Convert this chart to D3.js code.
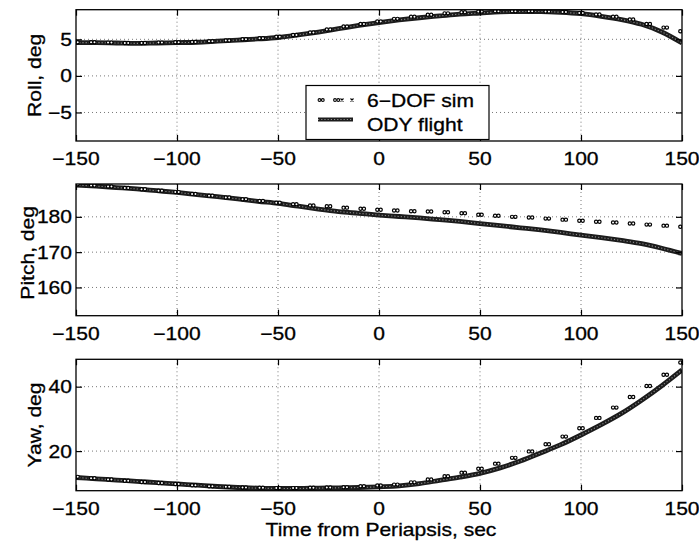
<!DOCTYPE html>
<html>
<head>
<meta charset="utf-8">
<script src="https://cdn.jsdelivr.net/npm/d3@7"></script>
<style>
  html, body { margin: 0; padding: 0; background: #fff; }
  svg { display: block; }
  text { font-family: "Liberation Sans", Arial, Helvetica, sans-serif; fill: #000; stroke: #000; stroke-width: 0.3; }
</style>
</head>
<body>
<svg id="chart" width="699" height="544"></svg>
<script>
// ---------------- data ----------------
const flightTime = [-150,-140,-130,-120,-110,-100,-90,-80,-70,-60,-50,-40,-30,-20,-10,0,10,20,30,40,50,60,70,80,90,100,110,120,130,140,150];
const rollFlight  = [4.55,4.55,4.5,4.45,4.5,4.55,4.6,4.75,4.9,5.05,5.25,5.6,6.0,6.45,6.9,7.3,7.65,7.95,8.2,8.45,8.6,8.75,8.8,8.8,8.7,8.5,8.15,7.7,7.05,6.0,4.5];
const pitchFlight = [189.0,188.7,188.3,187.9,187.4,186.9,186.3,185.7,185.1,184.4,183.8,183.0,182.2,181.5,181.0,180.5,180.1,179.7,179.2,178.7,178.1,177.5,176.9,176.3,175.6,174.8,174.1,173.3,172.4,171.1,169.6];
const yawFlight   = [11.8,11.4,11.0,10.6,10.2,9.8,9.4,9.0,8.7,8.5,8.4,8.4,8.5,8.6,8.7,8.9,9.2,9.9,10.9,11.9,13.1,14.8,16.9,19.4,22.0,25.0,28.2,31.7,35.8,40.3,45.2];

const simTime  = [-150,-141.7,-133.3,-125,-116.7,-108.3,-100,-91.7,-83.3,-75,-66.7,-58.3,-50,-41.7,-33.3,-25,-16.7,-8.3,0,8.3,16.7,25,33.3,41.7,50,58.3,66.7,75,83.3,91.7,100,108.3,116.7,125,133.3,141.7,150];
const rollSim  = [4.6,4.6,4.55,4.5,4.5,4.55,4.6,4.65,4.75,4.85,5.0,5.15,5.35,5.6,5.95,6.35,6.75,7.1,7.45,7.8,8.1,8.35,8.55,8.7,8.8,8.85,8.85,8.85,8.8,8.75,8.6,8.4,8.1,7.7,7.1,6.6,6.1];
const pitchSim = [189.2,188.9,188.6,188.2,187.8,187.4,187.0,186.5,186.0,185.5,185.0,184.5,184.0,183.6,183.2,183.0,182.6,182.3,182.0,181.8,181.6,181.5,181.3,181.0,180.6,180.3,180.0,179.8,179.5,179.2,178.9,178.6,178.4,178.1,177.8,177.5,177.2];
const yawSim   = [12.0,11.6,11.2,10.8,10.4,10.1,9.8,9.4,9.1,8.9,8.7,8.6,8.5,8.5,8.6,8.7,8.8,9.1,9.3,9.6,10.3,11.2,12.2,13.3,14.5,16.1,17.9,19.9,22.1,24.5,27.1,30.3,33.5,36.8,40.2,43.7,47.5];

const xTicks     = [-150,-100,-50,0,50,100,150];
const rollTicks  = [-5,0,5];
const pitchTicks = [160,170,180];
const yawTicks   = [20,40];

const panelLabels = ["Roll, deg","Pitch, deg","Yaw, deg"];
const xLabel = "Time from Periapsis, sec";
const legendLabels = ["6\u2212DOF sim","ODY flight"];

// ---------------- layout ----------------
const svg = d3.select("#chart");
const left = 76, right = 682;
const SX = 1.17; // horizontal text stretch
const panels = [
  { top: 9.7,   bottom: 141,   domain: [-8.9, 9.05], ticks: rollTicks,  flight: rollFlight,  sim: rollSim,  label: panelLabels[0], labelX: 40.5, labelDY: 0 },
  { top: 184,   bottom: 315.7, domain: [152, 189.3], ticks: pitchTicks, flight: pitchFlight, sim: pitchSim, label: panelLabels[1], labelX: 33.5, labelDY: 3 },
  { top: 359.3, bottom: 490.7, domain: [7.7, 48.5],  ticks: yawTicks,   flight: yawFlight,   sim: yawSim,   label: panelLabels[2], labelX: 40.5, labelDY: 0 }
];

const x = d3.scaleLinear().domain([-150, 150]).range([left, right]);
const fmt = d => (d < 0 ? "\u2212" + Math.abs(d) : String(d));

function stretchedText(g, tx, ty, str, anchor, rot) {
  return g.append("text")
    .attr("transform", `translate(${tx},${ty})` + (rot ? ` rotate(${rot})` : "") + ` scale(${SX},1)`)
    .attr("text-anchor", anchor)
    .style("font-size", "18px")
    .text(str);
}

panels.forEach((p, i) => {
  const y = d3.scaleLinear().domain(p.domain).range([p.bottom, p.top]);
  const g = svg.append("g");
  const clipId = "clip" + i;
  svg.append("clipPath").attr("id", clipId)
    .append("rect").attr("x", left).attr("y", p.top).attr("width", right - left).attr("height", p.bottom - p.top);

  // grid
  const grid = g.append("g").attr("stroke", "#555").attr("stroke-width", 0.8).attr("stroke-dasharray", "1,3");
  xTicks.filter(t => t > -150 && t < 150).forEach(t => {
    grid.append("line").attr("x1", x(t)).attr("x2", x(t)).attr("y1", p.top).attr("y2", p.bottom);
  });
  p.ticks.forEach(t => {
    grid.append("line").attr("x1", left).attr("x2", right).attr("y1", y(t)).attr("y2", y(t));
  });

  // data
  const plot = g.append("g").attr("clip-path", `url(#${clipId})`);
  const line = d3.line().x((d, k) => x(flightTime[k])).y(d => y(d)).curve(d3.curveMonotoneX);
  plot.append("path").datum(p.flight).attr("d", line)
    .attr("fill", "none").attr("stroke", "#1c1c1c").attr("stroke-width", 4.8);
  plot.append("path").datum(p.flight).attr("d", line)
    .attr("fill", "none").attr("stroke", "#8a8a8a").attr("stroke-width", 1.1).attr("stroke-dasharray", "1.2,2");

  const sims = plot.append("g").selectAll("g").data(p.sim).join("g")
    .attr("transform", (d, k) => `translate(${x(simTime[k])},${y(d)})`);
  [-1.7, 1.7].forEach(dx => {
    sims.append("circle").attr("cx", dx).attr("cy", 0).attr("r", 1.6)
      .attr("fill", "#fff").attr("stroke", "#000").attr("stroke-width", 1.2);
  });

  // axes (MATLAB-like box with inward ticks)
  const axB = d3.axisBottom(x).tickValues(xTicks).tickSize(-6).tickFormat("");
  const axT = d3.axisTop(x).tickValues(xTicks).tickSize(-6).tickFormat("");
  const axL = d3.axisLeft(y).tickValues(p.ticks).tickSize(-6).tickFormat("");
  const axR = d3.axisRight(y).tickValues(p.ticks).tickSize(-6).tickFormat("");
  [[axB, `translate(0,${p.bottom})`], [axT, `translate(0,${p.top})`], [axL, `translate(${left},0)`], [axR, `translate(${right},0)`]]
    .forEach(([ax, tr]) => {
      const a = g.append("g").attr("transform", tr).call(ax);
      a.select(".domain").remove();
      a.selectAll(".tick line").attr("stroke", "#000").attr("stroke-width", 1.2);
    });
  g.append("rect").attr("x", left).attr("y", p.top).attr("width", right - left).attr("height", p.bottom - p.top)
    .attr("fill", "none").attr("stroke", "#000").attr("stroke-width", 1.3);

  // tick labels
  xTicks.forEach(t => stretchedText(g, x(t), p.bottom + 24, fmt(t), "middle"));
  p.ticks.forEach(t => stretchedText(g, 72, y(t) + 6.5, fmt(t), "end"));

  // y label
  stretchedText(g, p.labelX, (p.top + p.bottom) / 2 + p.labelDY, p.label, "middle", -90);
});

// x label
stretchedText(svg, (left + right) / 2 + 2, 536, xLabel, "middle");

// legend
const lg = svg.append("g");
lg.append("rect").attr("x", 306).attr("y", 85.5).attr("width", 183).attr("height", 54)
  .attr("fill", "#fff").attr("stroke", "#000").attr("stroke-width", 1.2);
const simSample = [319.5, 322.8, 335, 338.3];
simSample.forEach(cx => lg.append("circle").attr("cx", cx).attr("cy", 100).attr("r", 1.4)
  .attr("fill", "#fff").attr("stroke", "#000").attr("stroke-width", 1.1));
[342, 352].forEach(cx => lg.append("path")
  .attr("d", `M${cx - 1.5},${98.5}L${cx + 1.5},${101.5}M${cx - 1.5},${101.5}L${cx + 1.5},${98.5}`)
  .attr("stroke", "#000").attr("stroke-width", 1.1));
lg.append("line").attr("x1", 318).attr("x2", 353).attr("y1", 119.5).attr("y2", 119.5)
  .attr("stroke", "#1c1c1c").attr("stroke-width", 3.8);
lg.append("line").attr("x1", 318).attr("x2", 353).attr("y1", 119.5).attr("y2", 119.5)
  .attr("stroke", "#8a8a8a").attr("stroke-width", 1).attr("stroke-dasharray", "1.2,2");
stretchedText(lg, 367, 106.5, legendLabels[0], "start");
stretchedText(lg, 367, 131, legendLabels[1], "start");
</script>
</body>
</html>
